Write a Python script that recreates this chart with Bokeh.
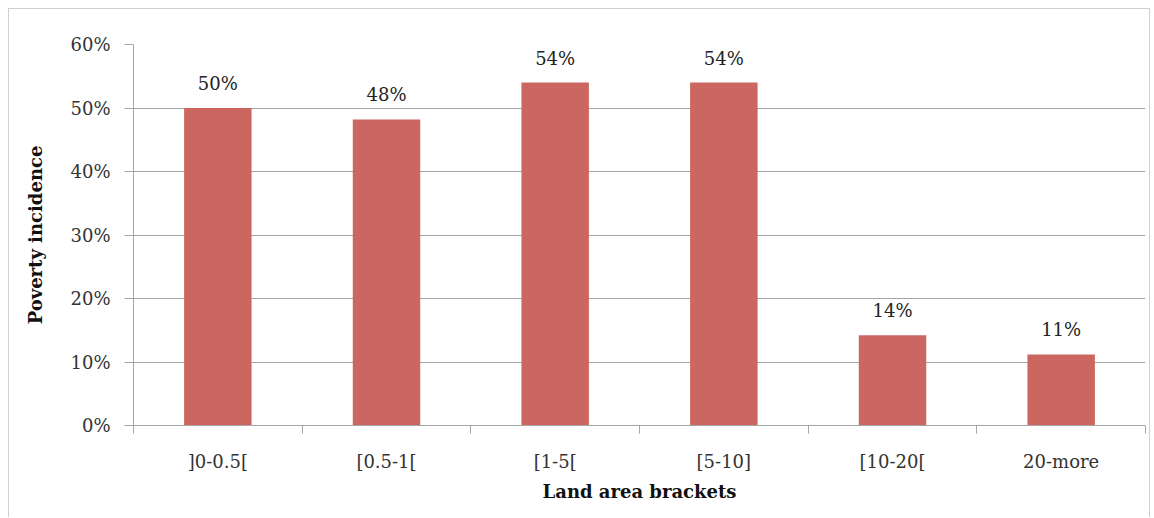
from bokeh.plotting import figure
from bokeh.models import ColumnDataSource, FixedTicker, NumeralTickFormatter, LabelSet, Range1d
from bokeh.core.properties import value
from bokeh.embed import file_html
from bokeh.resources import INLINE

categories = ["]0-0.5[", "[0.5-1[", "[1-5[", "[5-10]", "[10-20[", "20-more"]
poverty = [0.50, 0.482, 0.54, 0.54, 0.142, 0.112]
value_labels = ["50%", "48%", "54%", "54%", "14%", "11%"]
y_ticks = [0.0, 0.1, 0.2, 0.3, 0.4, 0.5, 0.6]

xs = [i + 0.5 for i in range(len(categories))]
src = ColumnDataSource(dict(x=xs, y=poverty, lab=value_labels))

FONT = "DejaVu Serif"
GRID = "#a6a6a6"

p = figure(width=1142, height=509, output_backend="svg", toolbar_location=None,
           x_range=Range1d(0, len(categories)), y_range=Range1d(0, 0.6),
           min_border_left=124, min_border_top=35, min_border_right=6, min_border_bottom=93)
p.margin = (8, 0, 0, 8)
p.styles = {"border-left": "1px solid #d0d0d0", "border-top": "1px solid #d0d0d0",
            "border-right": "1px solid #d0d0d0"}
p.outline_line_color = None
p.background_fill_color = "white"
p.border_fill_color = "white"

p.vbar(x="x", top="y", width=0.4, bottom=0, source=src, fill_color="#CC6660", line_color=None)

labels = LabelSet(x="x", y="y", text="lab", source=src, text_align="center",
                  text_baseline="alphabetic", y_offset=18, text_font=value(FONT),
                  text_font_size=value("18px"), text_color="#222222")
p.add_layout(labels)

p.xgrid.visible = False
p.ygrid.grid_line_color = GRID
p.ygrid.ticker = FixedTicker(ticks=y_ticks)

p.yaxis.ticker = FixedTicker(ticks=y_ticks)
p.yaxis.formatter = NumeralTickFormatter(format="0%")
p.yaxis.axis_line_color = GRID
p.yaxis.major_tick_line_color = GRID
p.yaxis.major_tick_out = 9
p.yaxis.major_tick_in = 0
p.yaxis.minor_tick_line_color = None
p.yaxis.major_label_text_font = FONT
p.yaxis.major_label_text_font_size = "18px"
p.yaxis.major_label_text_color = "#333333"
p.yaxis.major_label_standoff = 14
p.yaxis.axis_label = "Poverty incidence"
p.yaxis.axis_label_text_font = FONT
p.yaxis.axis_label_text_font_style = "bold"
p.yaxis.axis_label_text_font_size = "18px"
p.yaxis.axis_label_text_color = "#111111"
p.yaxis.axis_label_standoff = 21

p.xaxis.ticker = FixedTicker(ticks=xs, minor_ticks=list(range(len(categories) + 1)))
p.xaxis.major_label_overrides = {x: c for x, c in zip(xs, categories)}
p.xaxis.axis_line_color = GRID
p.xaxis.major_tick_line_color = None
p.xaxis.major_tick_out = 0
p.xaxis.major_tick_in = 0
p.xaxis.minor_tick_line_color = GRID
p.xaxis.minor_tick_out = 8
p.xaxis.minor_tick_in = 0
p.xaxis.major_label_text_font = FONT
p.xaxis.major_label_text_font_size = "18px"
p.xaxis.major_label_text_color = "#333333"
p.xaxis.major_label_standoff = 17
p.xaxis.axis_label = "Land area brackets"
p.xaxis.axis_label_text_font = FONT
p.xaxis.axis_label_text_font_style = "bold"
p.xaxis.axis_label_text_font_size = "18px"
p.xaxis.axis_label_text_color = "#111111"
p.xaxis.axis_label_standoff = 6

open("out.html", "w").write(file_html(p, INLINE))
